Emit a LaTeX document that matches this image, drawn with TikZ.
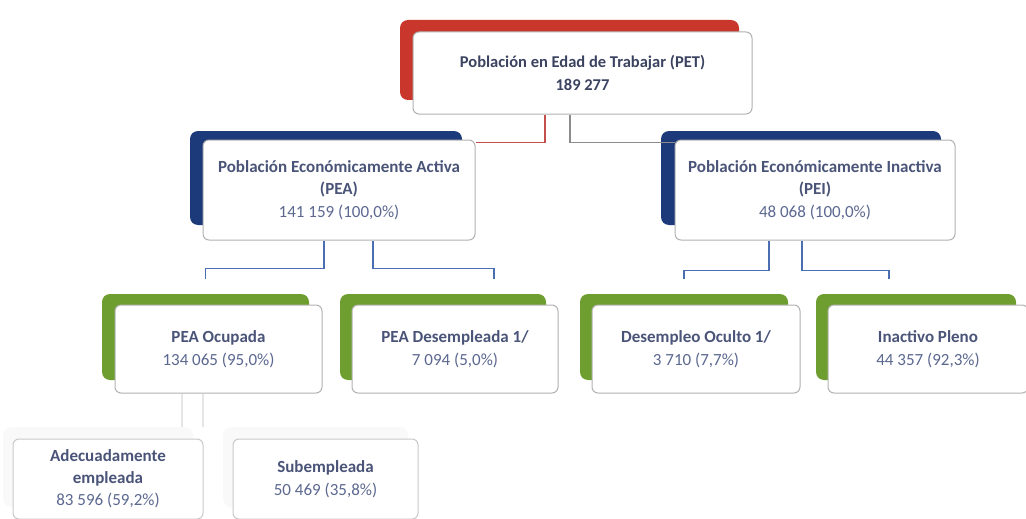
\documentclass[tikz,border=0pt]{standalone}
\usepackage{fontspec}
\setmainfont{Carlito}
\usetikzlibrary{positioning,backgrounds}
\definecolor{petred}{HTML}{C9372C}
\definecolor{peablue}{HTML}{1C397A}
\definecolor{leafgreen}{HTML}{6E9E2F}
\definecolor{framegray}{HTML}{B2B2B2}
\definecolor{headink}{HTML}{4A5478}
\definecolor{numink}{HTML}{5C6890}
\definecolor{linkblue}{HTML}{4A6EB2}
\definecolor{linkred}{HTML}{C4504C}
\definecolor{linkgray}{HTML}{8C8C8C}

\begin{document}
\begin{tikzpicture}[
    x=1pt, y=-1pt,
    every node/.style={font=\fontsize{17}{22.5}\selectfont},
    card/.style 2 args={
        draw=framegray, fill=white, rounded corners=6pt, line width=1pt,
        minimum width=#1, minimum height=#2, inner sep=0pt,
        align=center, text=numink
    },
    backplate/.style n args={3}{
        fill=#1, rounded corners=8pt, inner sep=0pt,
        minimum width=#2, minimum height=#3
    },
    link/.style={line width=1.2pt, color=#1},
]
\useasboundingbox (0,0) rectangle (1026,519);

% === Top level ===
\node[card={339}{82}, text=headink!80!black, font=\fontsize{16.5}{22.5}\selectfont\bfseries] (pet) at (582.5,73)
    {Población en Edad de Trabajar (PET)\\189 277};

% === Second level ===
\node[card={272}{100}] (pea) at (339,190)
    {{\bfseries\color{headink}Población Económicamente Activa}\\{\bfseries\color{headink}(PEA)}\\141 159 (100,0\%)};
\node[card={280}{100}] (pei) at (815,190)
    {{\bfseries\color{headink}Población Económicamente Inactiva}\\{\bfseries\color{headink}(PEI)}\\48 068 (100,0\%)};

% === Third level ===
\node[card={207}{88}] (ocup) at (218.5,349)
    {{\bfseries\color{headink}PEA Ocupada}\\134 065 (95,0\%)};
\node[card={206}{88}] (desemp) at (455,349)
    {{\bfseries\color{headink}PEA Desempleada 1/}\\7 094 (5,0\%)};
\node[card={208}{88}] (oculto) at (696,349)
    {{\bfseries\color{headink}Desempleo Oculto 1/}\\3 710 (7,7\%)};
\node[card={200}{88}] (inact) at (928,349)
    {{\bfseries\color{headink}Inactivo Pleno}\\44 357 (92,3\%)};

% === Fourth level (under PEA Ocupada) ===
\node[card={190}{80}, draw=framegray!70] (adec) at (108,479)
    {{\bfseries\color{headink}Adecuadamente}\\[-1pt]{\bfseries\color{headink}empleada}\\83 596 (59,2\%)};
\node[card={185}{80}, draw=framegray!70] (subemp) at (325.5,479)
    {{\bfseries\color{headink}Subempleada}\\50 469 (35,8\%)};

% Coloured plates behind the cards
\begin{scope}[on background layer]
\node[backplate={petred}{339}{80}] (petbg) at ([shift={(-13,-13)}]pet.center) {};
\node[backplate={peablue}{272}{94}] (peabg) at ([shift={(-13,-12)}]pea.center) {};
\node[backplate={peablue}{280}{94}] (peibg) at ([shift={(-14,-12)}]pei.center) {};
\node[backplate={leafgreen}{207}{86}] (ocupbg) at ([shift={(-13,-12)}]ocup.center) {};
\node[backplate={leafgreen}{206}{86}] (desempbg) at ([shift={(-12,-12)}]desemp.center) {};
\node[backplate={leafgreen}{208}{86}] (ocultobg) at ([shift={(-12,-12)}]oculto.center) {};
\node[backplate={leafgreen}{200}{86}] (inactbg) at ([shift={(-12,-12)}]inact.center) {};
\node[backplate={gray!5}{190}{80}] (adecbg) at ([shift={(-10,-12)}]adec.center) {};
\node[backplate={gray!5}{185}{80}] (subempbg) at ([shift={(-10,-12)}]subemp.center) {};
\end{scope}

% === Connectors ===
\draw[link=linkred] ([xshift=-37.5]pet.south) |- ([yshift=-3]pea.north east);
\draw[link=linkgray] ([xshift=-12.5]pet.south) |- ([yshift=-3]pei.north west);

\draw[link=linkblue] ([xshift=-15]pea.south) -- ++(0,28) -| ([yshift=15]ocupbg.north);
\draw[link=linkblue] ([xshift=34]pea.south) -- ++(0,28) -| ([xshift=51,yshift=15]desempbg.north);

\draw[link=linkblue] ([xshift=-46]pei.south) -- ++(0,30) -| ([yshift=15]ocultobg.north);
\draw[link=linkblue] ([xshift=-13]pei.south) -- ++(0,30) -| ([xshift=-27,yshift=15]inactbg.north);

\draw[link=gray!20] ([xshift=-36.5]ocup.south) -- ++(0,33);
\draw[link=gray!20] ([xshift=-15.5]ocup.south) -- ++(0,33);

\end{tikzpicture}
\end{document}
